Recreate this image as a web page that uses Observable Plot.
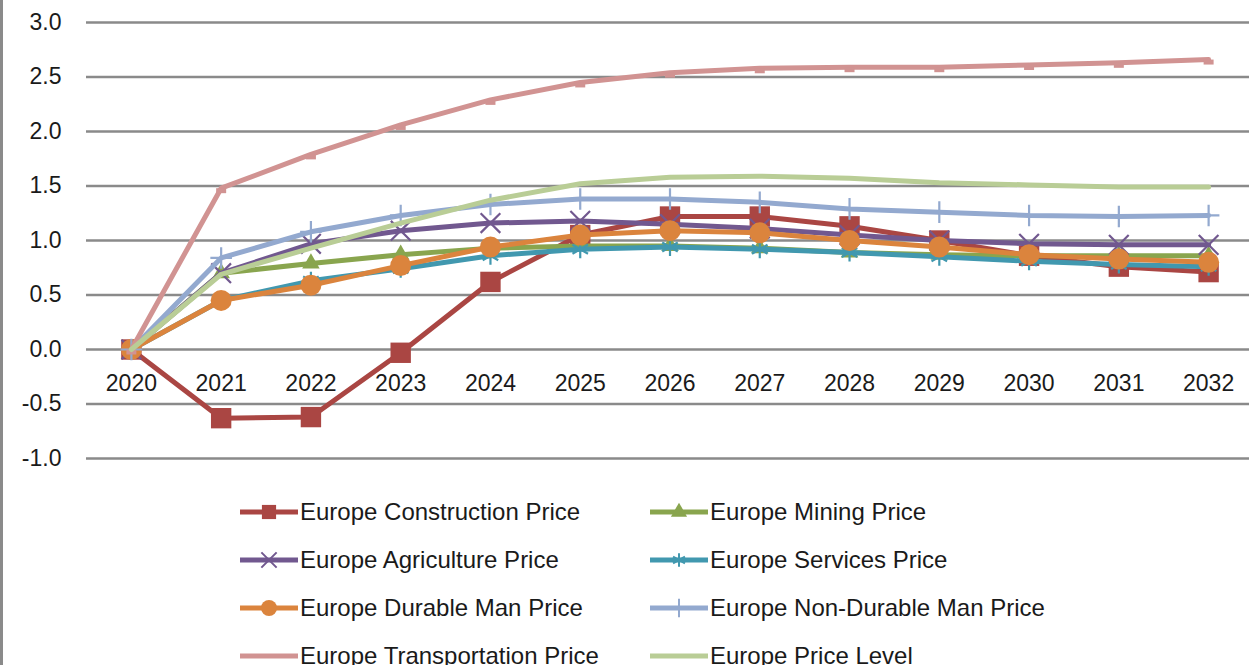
<!DOCTYPE html>
<html>
<head>
<meta charset="utf-8">
<script src="https://cdn.jsdelivr.net/npm/d3@7"></script>
<script src="https://cdn.jsdelivr.net/npm/@observablehq/plot@0.6"></script>
<style>
  html, body { margin: 0; padding: 0; background: #fff; }
  body { width: 1249px; height: 665px; overflow: hidden; position: relative; font-family: "Liberation Sans", Arial, sans-serif; }
  #frame { position: absolute; left: 0; top: 0; width: 3px; height: 665px; background: #8a8a8a; }
  #chart { position: absolute; left: 0; top: 0; }
  #legend { position: absolute; left: 0; top: 0; width: 1249px; height: 665px; pointer-events: none; }
  .item { position: absolute; display: flex; align-items: center; height: 30px; font-size: 24px; color: #1a1a1a; white-space: nowrap; }
  .item svg { display: block; margin-right: 2px; }
</style>
</head>
<body>
<div id="chart"></div>
<div id="frame"></div>
<div id="legend"></div>
<script>
const years = [2020, 2021, 2022, 2023, 2024, 2025, 2026, 2027, 2028, 2029, 2030, 2031, 2032];
const yTicks = [-1.0, -0.5, 0.0, 0.5, 1.0, 1.5, 2.0, 2.5, 3.0];

const seriesNames = [
  "Europe Construction Price", "Europe Mining Price", "Europe Agriculture Price", "Europe Services Price",
  "Europe Durable Man Price", "Europe Non-Durable Man Price", "Europe Transportation Price", "Europe Price Level"
];
const construction   = [0, -0.63, -0.62, -0.03, 0.62, 1.05, 1.22, 1.22, 1.13, 1.00, 0.86, 0.76, 0.71];
const mining         = [0, 0.70, 0.79, 0.87, 0.93, 0.95, 0.95, 0.93, 0.89, 0.87, 0.86, 0.86, 0.86];
const agriculture    = [0, 0.70, 0.97, 1.09, 1.16, 1.18, 1.15, 1.11, 1.05, 1.00, 0.97, 0.96, 0.96];
const services       = [0, 0.45, 0.63, 0.74, 0.86, 0.92, 0.94, 0.92, 0.89, 0.85, 0.81, 0.78, 0.76];
const durableMan     = [0, 0.45, 0.59, 0.77, 0.94, 1.05, 1.09, 1.07, 1.00, 0.94, 0.87, 0.83, 0.80];
const nonDurableMan  = [0, 0.84, 1.08, 1.23, 1.33, 1.38, 1.38, 1.35, 1.29, 1.26, 1.23, 1.22, 1.23];
const transportation = [0, 1.48, 1.79, 2.06, 2.29, 2.45, 2.54, 2.58, 2.59, 2.59, 2.61, 2.63, 2.66];
const priceLevel     = [0, 0.69, 0.93, 1.16, 1.37, 1.52, 1.58, 1.59, 1.57, 1.53, 1.51, 1.49, 1.49];

const seriesValues = [construction, mining, agriculture, services, durableMan, nonDurableMan, transportation, priceLevel];
const colors  = ["#AA4643", "#89A54E", "#71588F", "#4198AF", "#DB843D", "#93A9CF", "#D19392", "#B9CD96"];
const dashSymbol = { draw(context) { context.rect(-5, 0, 10, 5); } };
const symbols = ["square", "triangle", "times", "asterisk", "circle", "plus", dashSymbol, null];
const symbolR = [11.5, 6.5, 9, 8.5, 10.5, 7, 4, 0];
const legendR = [8, 6, 7, 6.5, 8, 6, 0, 0];
const filled  = [true, true, false, false, true, false, true, false];

const rows = seriesNames.map((name, i) => years.map((yr, j) => ({series: name, year: yr, value: seriesValues[i][j]})));

const marks = [
  Plot.ruleY(yTicks, {stroke: "#8a8a8a", strokeWidth: 2.5}),
  Plot.text(yTicks, {y: d => d, text: d => d.toFixed(1), frameAnchor: "left", textAnchor: "end", dx: -25, fontSize: 23, fill: "#1a1a1a"}),
  Plot.text(years, {x: d => d, y: 0, dy: 34, text: d => String(d), fontSize: 23, fill: "#1a1a1a"})
];
rows.forEach((data, i) => {
  marks.push(Plot.line(data, {x: "year", y: "value", stroke: colors[i], strokeWidth: 5, strokeLinejoin: "round"}));
  if (symbols[i]) {
    marks.push(Plot.dot(data, filled[i]
      ? {x: "year", y: "value", symbol: symbols[i], r: symbolR[i], fill: colors[i], stroke: "none"}
      : {x: "year", y: "value", symbol: symbols[i], r: symbolR[i], fill: "none", stroke: colors[i], strokeWidth: 2.2}));
  }
});

const chart = Plot.plot({
  width: 1249,
  height: 480,
  marginLeft: 86,
  marginRight: 0,
  marginTop: 22,
  marginBottom: 22,
  x: {type: "linear", domain: [2019.5, 2032.5], range: [86, 1253], axis: null},
  y: {type: "linear", domain: [-1, 3], range: [458, 22], axis: null},
  style: {fontFamily: "'Liberation Sans', Arial, sans-serif", background: "transparent", overflow: "visible"},
  marks
});
document.getElementById("chart").appendChild(chart);

// Legend (two columns)
const legend = document.getElementById("legend");
const legendPos = [[240, 512], [650, 512], [240, 560], [650, 560], [240, 608], [650, 608], [240, 656], [650, 656]];
const symMap = {square: d3.symbolSquare, triangle: d3.symbolTriangle, times: d3.symbolTimes, asterisk: d3.symbolAsterisk, circle: d3.symbolCircle, plus: d3.symbolPlus};
seriesNames.forEach((name, i) => {
  const item = document.createElement("div");
  item.className = "item";
  item.style.left = legendPos[i][0] + "px";
  item.style.top = (legendPos[i][1] - 15) + "px";
  const ns = "http://www.w3.org/2000/svg";
  const svg = document.createElementNS(ns, "svg");
  svg.setAttribute("width", 58); svg.setAttribute("height", 30);
  const line = document.createElementNS(ns, "line");
  line.setAttribute("x1", 0); line.setAttribute("x2", 58); line.setAttribute("y1", 15); line.setAttribute("y2", 15);
  line.setAttribute("stroke", colors[i]); line.setAttribute("stroke-width", 5); line.setAttribute("stroke-linecap", "round");
  svg.appendChild(line);
  if (typeof symbols[i] === "string") {
    const p = document.createElementNS(ns, "path");
    p.setAttribute("d", d3.symbol(symMap[symbols[i]], Math.PI * legendR[i] * legendR[i])());
    p.setAttribute("transform", "translate(29,15)");
    if (filled[i]) { p.setAttribute("fill", colors[i]); }
    else { p.setAttribute("fill", "none"); p.setAttribute("stroke", colors[i]); p.setAttribute("stroke-width", 2); }
    svg.appendChild(p);
  }
  item.appendChild(svg);
  const span = document.createElement("span");
  span.textContent = name;
  item.appendChild(span);
  legend.appendChild(item);
});
</script>
</body>
</html>
